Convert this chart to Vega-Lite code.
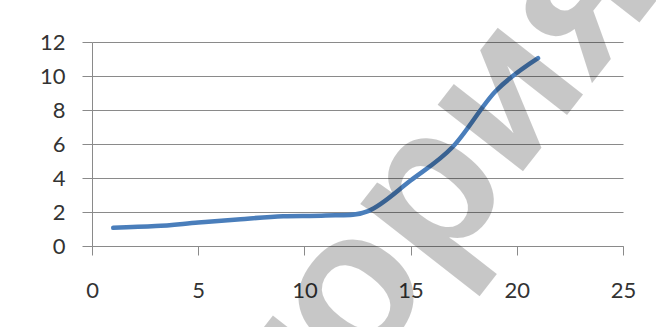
{
  "$schema": "https://vega.github.io/schema/vega-lite/v6.json",
  "width": 531,
  "height": 204,
  "autosize": {"type": "none"},
  "padding": {"left": 92, "top": 42, "right": 33, "bottom": 81},
  "background": "white",
  "config": {
    "view": {"stroke": null},
    "font": "Lato",
    "axis": {
      "labelFont": "Lato",
      "labelFontSize": 22,
      "labelColor": "#333333",
      "labelOverlap": false,
      "domainColor": "#8a8a8a",
      "tickColor": "#8a8a8a",
      "gridColor": "#8a8a8a",
      "domainWidth": 1,
      "tickWidth": 1,
      "gridWidth": 1,
      "title": null
    }
  },
  "layer": [
    {
      "data": {
        "values": [
          {"x": 1, "y": 1.07},
          {"x": 3, "y": 1.17},
          {"x": 5, "y": 1.38},
          {"x": 7, "y": 1.58},
          {"x": 9, "y": 1.75},
          {"x": 11, "y": 1.8},
          {"x": 13, "y": 2.05},
          {"x": 15, "y": 3.85},
          {"x": 17, "y": 5.85},
          {"x": 19, "y": 9.1},
          {"x": 21, "y": 11.05}
        ]
      },
      "mark": {"type": "line", "interpolate": "cardinal", "color": "#4a7ebb", "strokeWidth": 4.5, "strokeCap": "round"},
      "encoding": {
        "x": {
          "field": "x", "type": "quantitative",
          "scale": {"domain": [0, 25], "nice": false, "zero": false},
          "axis": {"values": [0, 5, 10, 15, 20, 25], "grid": false, "tickSize": 9, "labelPadding": 25, "labelFlush": false}
        },
        "y": {
          "field": "y", "type": "quantitative",
          "scale": {"domain": [0, 12], "nice": false},
          "axis": {"values": [0, 2, 4, 6, 8, 10, 12], "grid": true, "tickSize": 10, "labelPadding": 17, "labelFlush": false}
        }
      }
    },
    {
      "data": {"values": [{"label": "история"}]},
      "mark": {"type": "text", "font": "Liberation Sans", "fontWeight": "bold", "fontSize": 205, "angle": -52, "align": "center", "baseline": "middle", "fill": "#000000", "fillOpacity": 0.22},
      "encoding": {
        "text": {"field": "label"},
        "x": {
          "datum": 12.62, "type": "quantitative",
          "scale": {"domain": [0, 25], "nice": false, "zero": false},
          "axis": {"values": [0, 5, 10, 15, 20, 25], "grid": false, "tickSize": 9, "labelPadding": 25, "labelFlush": false}
        },
        "y": {
          "datum": -1.96, "type": "quantitative",
          "scale": {"domain": [0, 12], "nice": false},
          "axis": {"values": [0, 2, 4, 6, 8, 10, 12], "grid": true, "tickSize": 10, "labelPadding": 17, "labelFlush": false}
        }
      }
    }
  ]
}
